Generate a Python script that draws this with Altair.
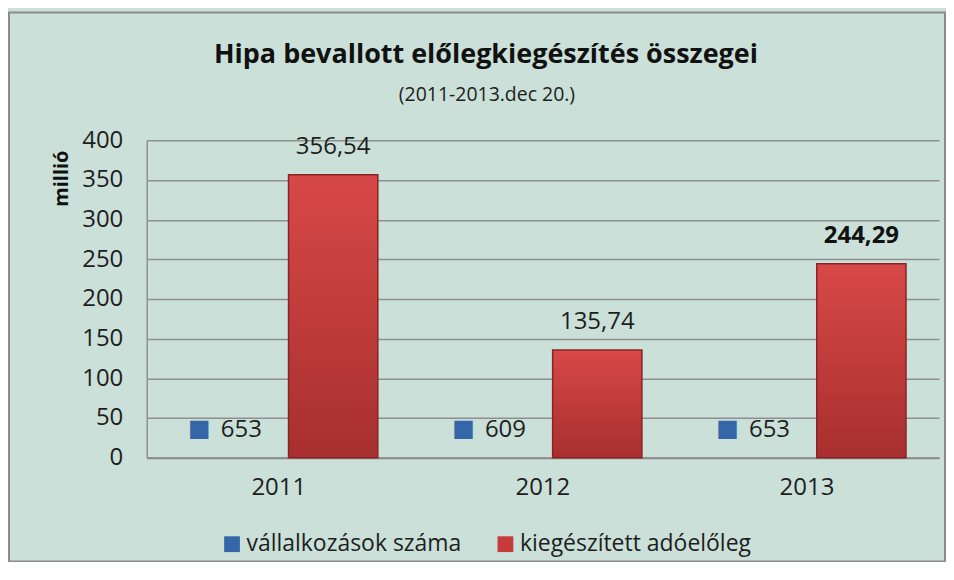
import altair as alt
import pandas as pd

years = ["2011", "2012", "2013"]
series_names = ["vállalkozások száma", "kiegészített adóelőleg"]
vallalkozasok = [653, 609, 653]
adoeloleg = [356.54, 135.74, 244.29]
y_ticks = [0, 50, 100, 150, 200, 250, 300, 350, 400]
title_text = "Hipa bevallott előlegkiegészítés összegei"
subtitle_text = "(2011-2013.dec 20.)"

rows = []
for i, yr in enumerate(years):
    rows.append({"year": yr, "series": series_names[0],
                 "value": vallalkozasok[i] / 1e6, "label": str(vallalkozasok[i]),
                 "bold": False})
    rows.append({"year": yr, "series": series_names[1],
                 "value": adoeloleg[i], "label": f"{adoeloleg[i]:.2f}".replace(".", ","),
                 "bold": i == len(years) - 1})
df = pd.DataFrame(rows)

FONT = "Open Sans"
BG = "#cae0d8"
BLUE = "#3566a8"
RED = "#c63b3b"
TXT = "#1e1e1e"

x_enc = alt.X("year:N", title=None, sort=years,
              scale=alt.Scale(paddingInner=0.25, paddingOuter=0.125),
              axis=alt.Axis(labelAngle=0, labelFontSize=24, labelFont=FONT,
                            labelColor=TXT, ticks=False, labelPadding=18,
                            domainColor="#8a8a8a", domainWidth=2))
xo_enc = alt.XOffset("series:N", sort=series_names,
                     scale=alt.Scale(paddingInner=0.18, paddingOuter=0))
y_enc = alt.Y("value:Q", title="millió",
              scale=alt.Scale(domain=[0, 400], nice=False),
              axis=alt.Axis(values=y_ticks, labelOverlap=False, labelFontSize=24,
                            labelFont=FONT, labelColor=TXT, ticks=False,
                            labelPadding=24,
                            gridColor="#8f8f8f", gridWidth=1.5,
                            domainColor="#8f8f8f", domainWidth=1.5,
                            titleFont=FONT, titleFontSize=20, titleFontWeight="bold",
                            titleColor="#111111", titleAngle=270, titleAlign="center",
                            titleBaseline="middle", titleX=-85, titleY=38))

base = alt.Chart(df)

bars = base.mark_bar(strokeWidth=0).encode(
    x=x_enc, xOffset=xo_enc, y=y_enc,
    color=alt.Color("series:N", sort=series_names,
                    scale=alt.Scale(domain=series_names, range=[BLUE, RED]),
                    legend=alt.Legend(title=None, orient="none", direction="horizontal",
                                      legendX=74, legendY=393, labelFontSize=23,
                                      labelFont=FONT, labelColor=TXT,
                                      labelLimit=0,
                                      symbolType="square", symbolSize=250,
                                      symbolStrokeWidth=0, columnPadding=32,
                                      labelOffset=3)),
)

red_grad = base.transform_filter(alt.datum.series == series_names[1]).mark_bar(
    fill=alt.Gradient(gradient="linear", x1=0, x2=0, y1=0, y2=1,
                      stops=[alt.GradientStop(color="#d84848", offset=0),
                             alt.GradientStop(color="#a82f2f", offset=1)]),
    stroke="#8a2424", strokeWidth=1.5,
).encode(x=x_enc, xOffset=xo_enc, y=y_enc)

red_labels = base.transform_filter(
    (alt.datum.series == series_names[1]) & (alt.datum.bold == False)
).mark_text(font=FONT, fontSize=24, baseline="middle", dy=-28, color=TXT).encode(
    x=x_enc, xOffset=xo_enc, y=y_enc, text="label:N")

red_labels_bold = base.transform_filter(
    (alt.datum.series == series_names[1]) & (alt.datum.bold == True)
).mark_text(font=FONT, fontSize=24, fontWeight="bold", baseline="middle", dy=-28,
            color="#111111").encode(
    x=x_enc, xOffset=xo_enc, y=y_enc, text="label:N")

blue_labels = base.transform_filter(alt.datum.series == series_names[0]).mark_text(
    font=FONT, fontSize=24, baseline="middle", dy=-28, dx=17, color=TXT).encode(
    x=x_enc, xOffset=xo_enc, y=y_enc, text="label:N")

blue_icons = base.transform_filter(alt.datum.series == series_names[0]).mark_text(
    font="DejaVu Sans", fontSize=24, baseline="middle", dy=-29, dx=-25, color=BLUE,
    text="■").encode(x=x_enc, xOffset=xo_enc, y=y_enc)

one = pd.DataFrame({"t": [title_text], "s": [subtitle_text]})

frame = alt.Chart(one).mark_rect(
    fillOpacity=0, stroke="#8c8c8c", strokeWidth=2, clip=False).encode(
    x=alt.value(-138), x2=alt.value(800), y=alt.value(-128), y2=alt.value(422))

title_mark = alt.Chart(one).mark_text(
    font=FONT, fontSize=27, fontWeight="bold", color="#111111", baseline="middle",
    align="center", clip=False).encode(
    x=alt.value(340), y=alt.value(-85), text="t:N")

subtitle_mark = alt.Chart(one).mark_text(
    font=FONT, fontSize=19.5, color=TXT, baseline="middle",
    align="center", clip=False).encode(
    x=alt.value(341), y=alt.value(-45), text="s:N")

chart = alt.layer(frame, bars, red_grad, red_labels, red_labels_bold, blue_labels,
                  blue_icons, title_mark, subtitle_mark).properties(
    width=794, height=318,
    autosize=alt.AutoSizeParams(type="none"),
    padding={"left": 139, "top": 132, "right": 7, "bottom": 104},
).configure(background=BG).configure_view(stroke=None)

chart.save("out.html", embed_options={"renderer": "svg", "actions": False})
